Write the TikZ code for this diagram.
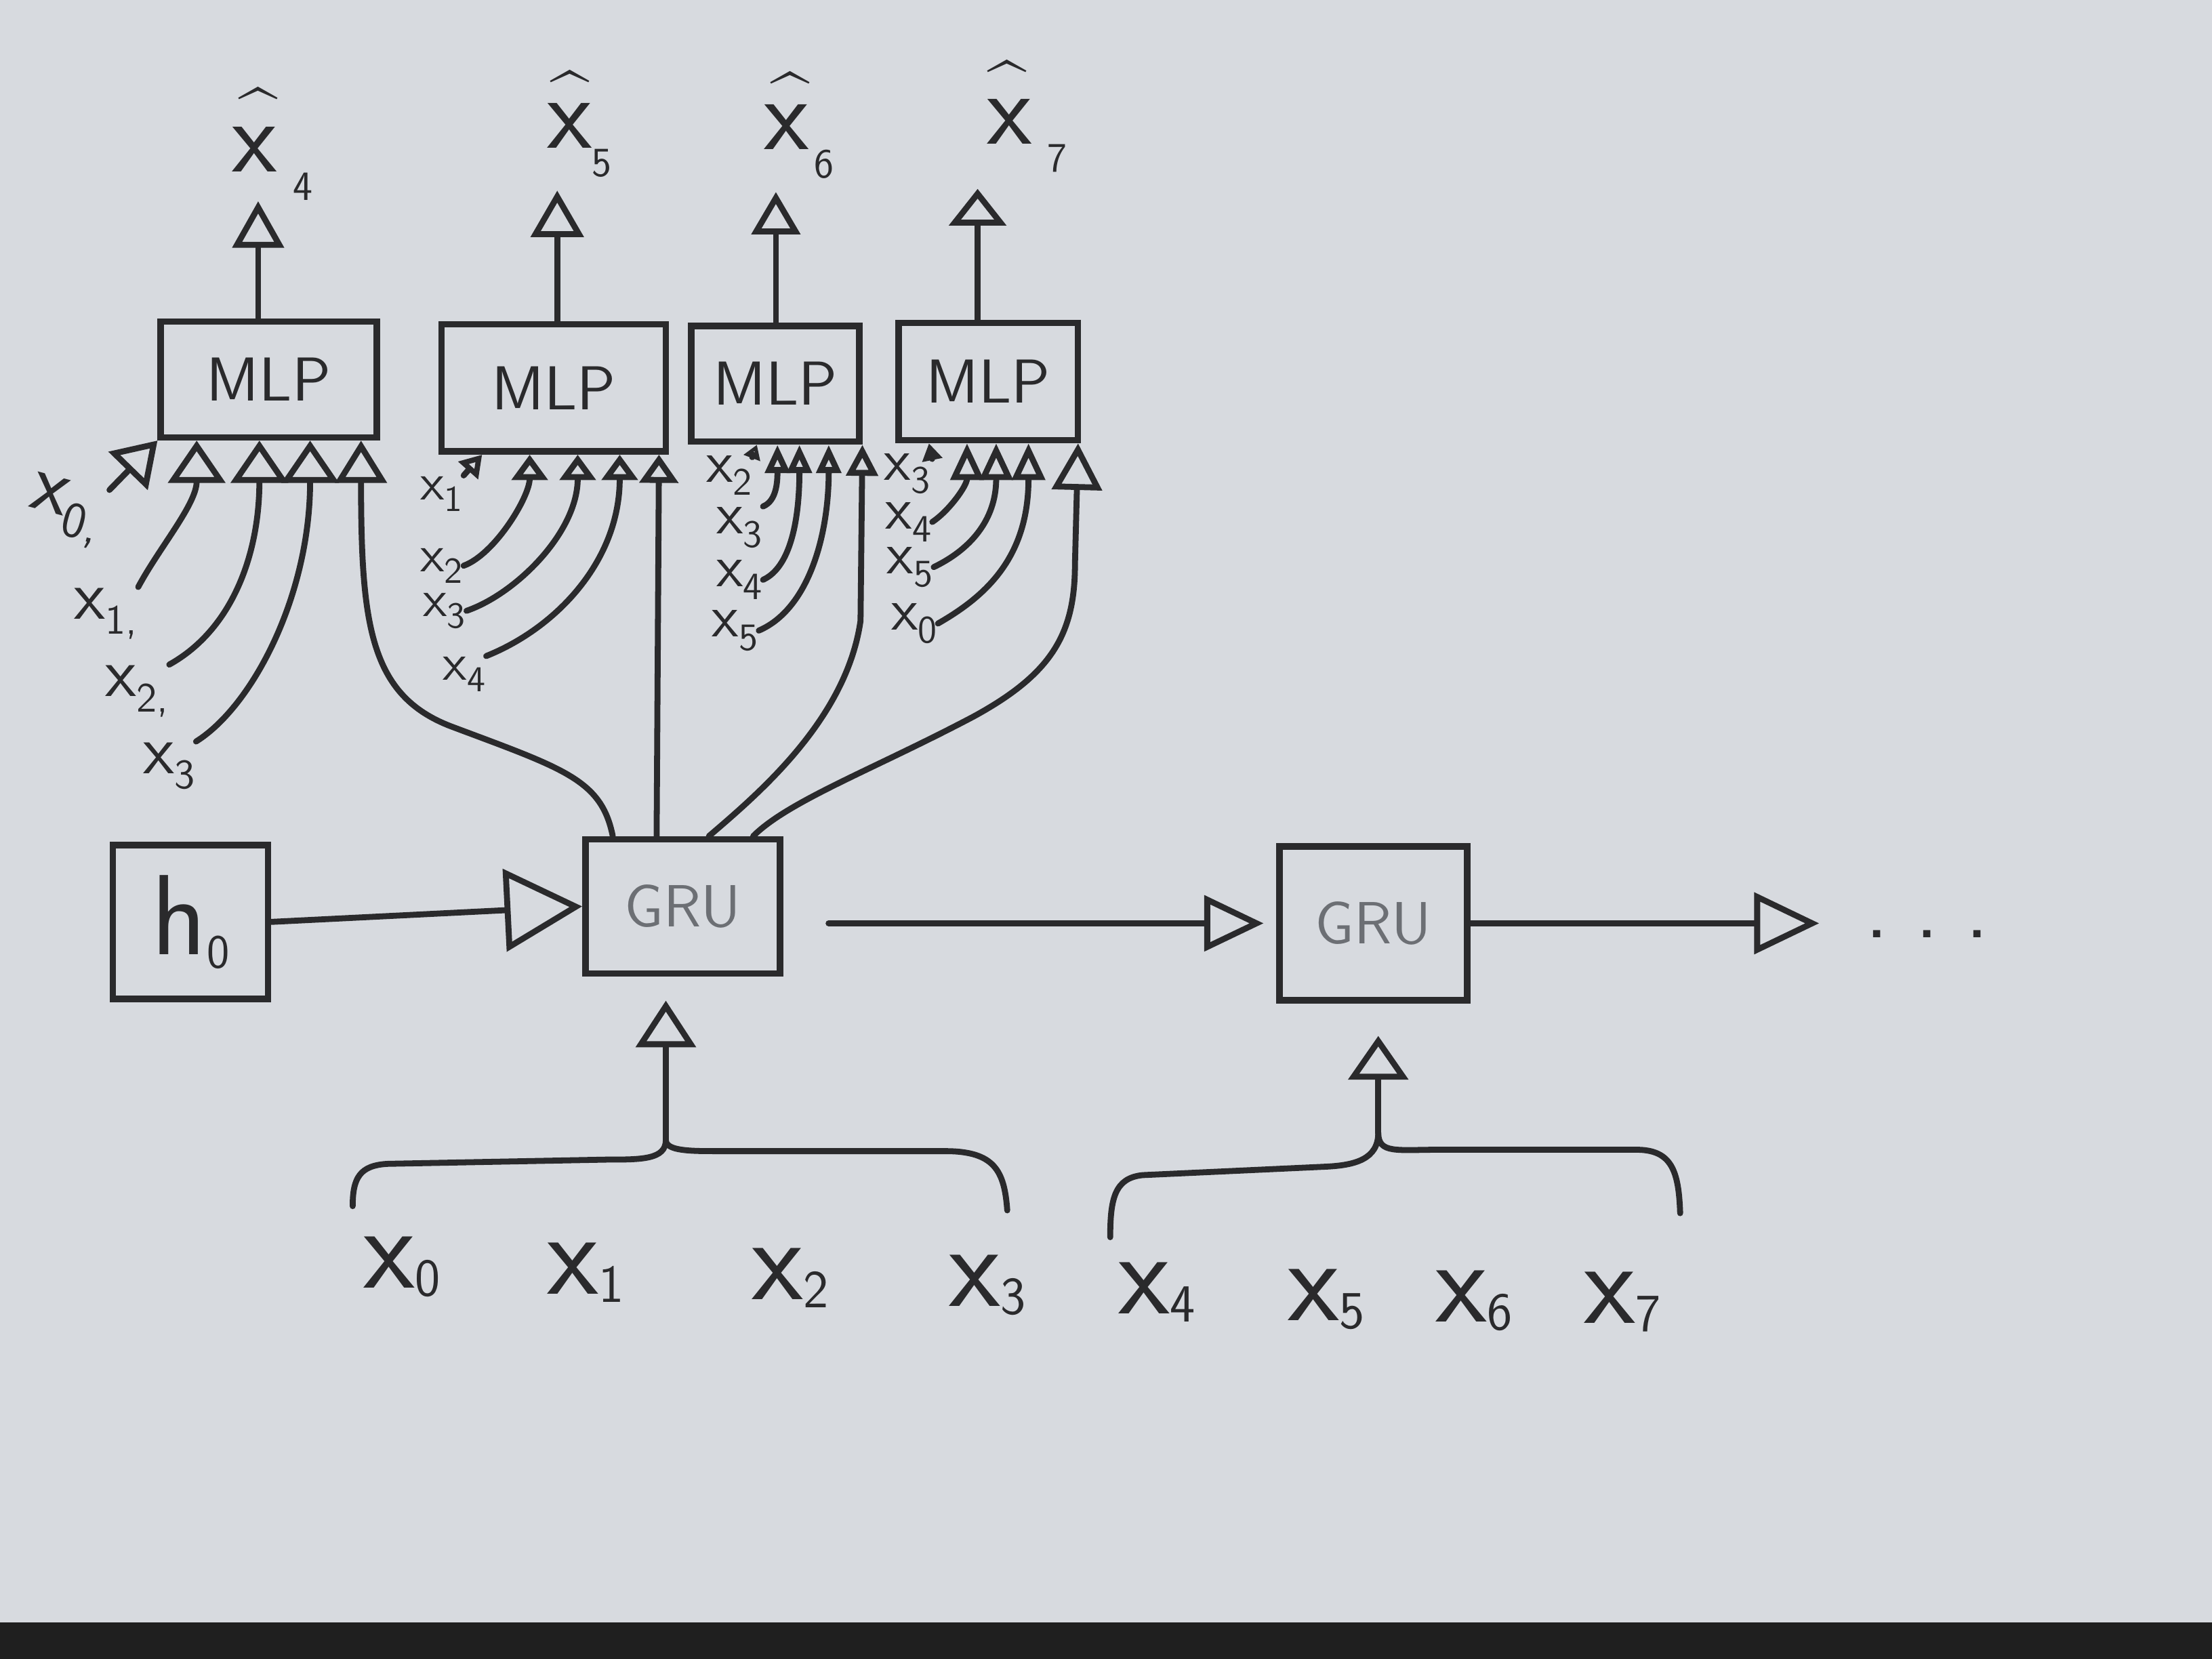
\documentclass[tikz,border=0pt]{standalone}
\usetikzlibrary{arrows.meta,calc}
\definecolor{paper}{HTML}{D7DADF}
\definecolor{ink}{HTML}{2A2A2C}
\definecolor{pencil}{HTML}{6C6F74}
\newcommand{\fsz}[1]{\fontsize{#1}{#1}\selectfont}
\newcommand{\sbx}[3]{\raisebox{#2}{\scalebox{#1}{#3}}}
\newcommand{\hatc}{\raisebox{-0.47em}[0.24em][0pt]{\textasciicircum}}
\tikzset{
  box/.style={draw=ink, line width=1.3pt, inner sep=0pt, text=ink, font=\sffamily\fsz{12.5}},
  grubox/.style={box, text=pencil, font=\sffamily\fsz{12}},
  wire/.style={draw=ink, line width=1.2pt, line cap=round},
  tri/.style args={#1/#2}{wire, -{Triangle[open, length=#1, width=#2]}},
  hlbl/.style={inner sep=0pt, anchor=base west, text=ink, font=\sffamily\fsz{21}},
  hatlbl/.style={inner sep=0pt, text=ink, font=\sffamily\fsz{14}},
  lbl/.style={inner sep=0pt, text=ink, font=\sffamily\fsz{#1}},
}
\begin{document}
\begin{tikzpicture}[x=0.01cm,y=-0.01cm]
\fill[paper] (0,0) rectangle (1568,1176);
\fill[black!88] (0,1150) rectangle (1568,1176);
\useasboundingbox (0,0) rectangle (1568,1176);

% MLP boxes
\node[box, minimum width=1.53cm, minimum height=0.82cm] (m1) at (190.5,269) {MLP};
\node[box, minimum width=1.59cm, minimum height=0.90cm] (m2) at (392.5,275) {MLP};
\node[box, minimum width=1.19cm, minimum height=0.82cm] (m3) at (549.5,272) {MLP};
\node[box, minimum width=1.27cm, minimum height=0.83cm] (m4) at (700.5,270.5) {MLP};

% outputs (x with hat above)
\node[hlbl] (o4) at (164,122) {x\hspace{0.15em}\sbx{0.4}{-0.27em}{4}};
\node[hlbl] (o5) at (387,105) {x\sbx{0.4}{-0.27em}{5}};
\node[hlbl] (o6) at (541,106) {x\hspace{0.05em}\sbx{0.4}{-0.27em}{6}};
\node[hlbl] (o7) at (699,102) {x\hspace{0.15em}\sbx{0.4}{-0.27em}{7}};
\node[hatlbl] (h4) at (183,69) {\hatc};
\node[hatlbl] (h5) at (404,57) {\hatc};
\node[hatlbl] (h6) at (560,58) {\hatc};
\node[hatlbl] (h7) at (714,50) {\hatc};
\coordinate (e1) at ($(m1.north)+(-7.5,0)$);
\coordinate (e2) at ($(m2.north)+(2.5,0)$);
\coordinate (e3) at ($(m3.north)+(0.5,0)$);
\coordinate (e4) at ($(m4.north)+(-7.5,0)$);
\draw[tri=0.33cm/0.36cm] (e1) -- (e1 |- o4.south);
\draw[tri=0.33cm/0.37cm, shorten >=0.09cm] (e2) -- (e2 |- o5.south);
\draw[tri=0.30cm/0.34cm, shorten >=0.09cm] (e3) -- (e3 |- o6.south);
\draw[tri=0.26cm/0.40cm, shorten >=0.11cm] (e4) -- (e4 |- o7.south);

% GRU, h0
\node[grubox, minimum width=1.38cm, minimum height=0.95cm] (g1) at (484,642.5) {GRU};
\node[grubox, minimum width=1.33cm, minimum height=1.09cm] (g2) at (973.5,654.5) {GRU};
\node[box, minimum width=1.10cm, minimum height=1.09cm, font=\sffamily\fsz{23}] (h0) at (135,653.5) {h\sbx{0.42}{-0.12em}{0}};
\node[lbl=18] (dots) at (1366,662) {.\hspace{0.3em}.\hspace{0.3em}.};

\draw[tri=0.55cm/0.58cm] (h0.east) -- (g1.west);
\draw[tri=0.42cm/0.39cm, shorten <=0.32cm, shorten >=0.09cm] (g1.east |- g2.west) -- (g2.west);
\draw[tri=0.46cm/0.43cm, shorten >=0.32cm] (g2.east) -- (dots.west |- g2.east);

% tip points on MLP bottoms
\coordinate (t10) at (m1.south west);
\coordinate (t11) at ($(m1.south west)!0.176!(m1.south east)$);
\coordinate (t12) at ($(m1.south west)!0.458!(m1.south east)$);
\coordinate (t13) at ($(m1.south west)!0.686!(m1.south east)$);
\coordinate (t14) at ($(m1.south west)!0.915!(m1.south east)$);
\coordinate (t21) at ($(m2.south west)!0.19!(m2.south east)$);
\coordinate (t22) at ($(m2.south west)!0.396!(m2.south east)$);
\coordinate (t23) at ($(m2.south west)!0.604!(m2.south east)$);
\coordinate (t24) at ($(m2.south west)!0.786!(m2.south east)$);
\coordinate (t25) at ($(m2.south west)!0.956!(m2.south east)$);
\coordinate (t31) at ($(m3.south west)!0.395!(m3.south east)$);
\coordinate (t32) at ($(m3.south west)!0.513!(m3.south east)$);
\coordinate (t33) at ($(m3.south west)!0.639!(m3.south east)$);
\coordinate (t34) at ($(m3.south west)!0.807!(m3.south east)$);
\coordinate (t35) at (m3.south east);
\coordinate (t41) at ($(m4.south west)!0.181!(m4.south east)$);
\coordinate (t42) at ($(m4.south west)!0.386!(m4.south east)$);
\coordinate (t43) at ($(m4.south west)!0.543!(m4.south east)$);
\coordinate (t44) at ($(m4.south west)!0.717!(m4.south east)$);
\coordinate (t45) at ($(m4.south west)!0.984!(m4.south east)$);
% GRU1 top start points
\coordinate (s1) at ($(g1.north west)!0.152!(g1.north east)$);
\coordinate (s2) at ($(g1.north west)!0.37!(g1.north east)$);
\coordinate (s3) at ($(g1.north west)!0.63!(g1.north east)$);
\coordinate (s4) at ($(g1.north west)!0.85!(g1.north east)$);

% MLP1 inputs
\node[lbl=17, rotate=-15] (l10) at (46,362) {x\sbx{0.6}{-0.22em}{0,}};
\node[lbl=14] (l11) at (75,435) {x\sbx{0.6}{-0.22em}{1,}};
\node[lbl=14] (l12) at (97,490) {x\sbx{0.6}{-0.22em}{2,}};
\node[lbl=14] (l13) at (120,543) {x\sbx{0.6}{-0.22em}{3}};
\draw[tri=0.3cm/0.38cm] (l10.north east) -- (t10);
\draw[tri=0.3cm/0.4cm] (l11.north east) .. controls +(15,-28) and ($(t11)+(0,45)$) .. (t11);
\draw[tri=0.3cm/0.4cm] (l12.north east) .. controls +(45,-25) and ($(t12)+(0,80)$) .. (t12);
\draw[tri=0.3cm/0.4cm] (l13.north east) .. controls +(40,-25) and ($(t13)+(0,110)$) .. (t13);
\draw[tri=0.3cm/0.36cm] (s1) .. controls +(-8,-40) and (400,545) .. (320,515) .. controls (262,493) and ($(t14)+(0,130)$) .. (t14);

% MLP2 inputs
\node[lbl=10.5] (l21) at (313,350) {x\sbx{0.7}{-0.22em}{1}};
\node[lbl=10.5] (l22) at (313,401) {x\sbx{0.7}{-0.22em}{2}};
\node[lbl=10.5] (l23) at (315,433) {x\sbx{0.7}{-0.22em}{3}};
\node[lbl=10.5] (l24) at (329,478) {x\sbx{0.7}{-0.22em}{4}};
\draw[tri=0.15cm/0.18cm] (l21.north east) -- (t21);
\draw[tri=0.18cm/0.25cm] (l22.east) .. controls +(22,-8) and ($(t22)+(0,30)$) .. (t22);
\draw[tri=0.18cm/0.25cm] (l23.east) .. controls +(35,-12) and ($(t23)+(0,55)$) .. (t23);
\draw[tri=0.18cm/0.25cm] (l24.north east) .. controls +(50,-20) and ($(t24)+(0,75)$) .. (t24);
\draw[tri=0.2cm/0.27cm] (s2) -- (t25);

% MLP3 inputs
\node[lbl=12] (l32) at (517,337) {x\sbx{0.65}{-0.22em}{2}};
\node[lbl=12] (l33) at (524,374) {x\sbx{0.65}{-0.22em}{3}};
\node[lbl=12] (l34) at (524,411) {x\sbx{0.65}{-0.22em}{4}};
\node[lbl=12] (l35) at (521,447) {x\sbx{0.65}{-0.22em}{5}};
\draw[tri=0.1cm/0.12cm] (l32.north east) -- (t31);
\draw[tri=0.2cm/0.17cm] (l33.north east) .. controls +(10,-4) and ($(t32)+(0,25)$) .. (t32);
\draw[tri=0.2cm/0.17cm] (l34.east) .. controls +(22,-10) and ($(t33)+(0,45)$) .. (t33);
\draw[tri=0.2cm/0.17cm] (l35.east) .. controls +(35,-15) and ($(t34)+(0,65)$) .. (t34);
\draw[tri=0.22cm/0.22cm] (s3) .. controls +(35,-30) and (600,510) .. (610,440) -- (t35);

% MLP4 inputs
\node[lbl=12] (l43) at (643,336) {x\sbx{0.65}{-0.22em}{3}};
\node[lbl=12] (l44) at (644,370) {x\sbx{0.65}{-0.22em}{4}};
\node[lbl=12] (l45) at (645,402) {x\sbx{0.65}{-0.22em}{5}};
\node[lbl=12] (l46) at (648,442) {x\sbx{0.65}{-0.22em}{0}};
\draw[tri=0.12cm/0.14cm] (l43.north east) -- (t41);
\draw[tri=0.26cm/0.23cm] (l44.east) .. controls +(12,-8) and ($(t42)+(0,30)$) .. (t42);
\draw[tri=0.26cm/0.23cm] (l45.east) .. controls +(25,-12) and ($(t43)+(0,55)$) .. (t43);
\draw[tri=0.26cm/0.23cm] (l46.east) .. controls +(35,-20) and ($(t44)+(0,80)$) .. (t44);
\draw[tri=0.33cm/0.35cm] (s4) .. controls +(25,-25) and (620,545) .. (690,508) .. controls (745,478) and (762,450) .. (762,400) -- (t45);

% inputs to GRUs with braces
\coordinate (j1) at (472,808);
\coordinate (j2) at (977,803);
\draw[tri=0.33cm/0.42cm, shorten >=0.17cm] (j1) -- (j1 |- g1.south);
\draw[tri=0.31cm/0.42cm, shorten >=0.23cm] (j2) -- (j2 |- g2.south);
\draw[wire] (j1) .. controls (472,822) and (455,822) .. (430,822) -- (275,825) .. controls (255,826) and (250,835) .. (250,855);
\draw[wire] (j1) .. controls (472,815) and (485,816) .. (505,816) -- (670,816) .. controls (705,816) and (712,830) .. (714,858);
\draw[wire] (j2) .. controls (977,822) and (960,826) .. (940,827) -- (810,833) .. controls (790,835) and (787,850) .. (787,877);
\draw[wire] (j2) .. controls (977,818) and (990,815) .. (1020,815) -- (1160,815) .. controls (1185,815) and (1190,830) .. (1191,860);

% bottom sequence labels
\node[lbl=24] (b0) at (285,898) {x\sbx{0.45}{-0.07em}{0}};
\node[lbl=24] (b1) at (415,902) {x\sbx{0.45}{-0.07em}{1}};
\node[lbl=24] (b2) at (560,906) {x\sbx{0.45}{-0.07em}{2}};
\node[lbl=24] (b3) at (700,911) {x\sbx{0.45}{-0.07em}{3}};
\node[lbl=24] (b4) at (820,916) {x\sbx{0.45}{-0.07em}{4}};
\node[lbl=24] (b5) at (940,921) {x\sbx{0.45}{-0.07em}{5}};
\node[lbl=24] (b6) at (1045,922) {x\sbx{0.45}{-0.07em}{6}};
\node[lbl=24] (b7) at (1150,923) {x\sbx{0.45}{-0.07em}{7}};
\end{tikzpicture}
\end{document}
